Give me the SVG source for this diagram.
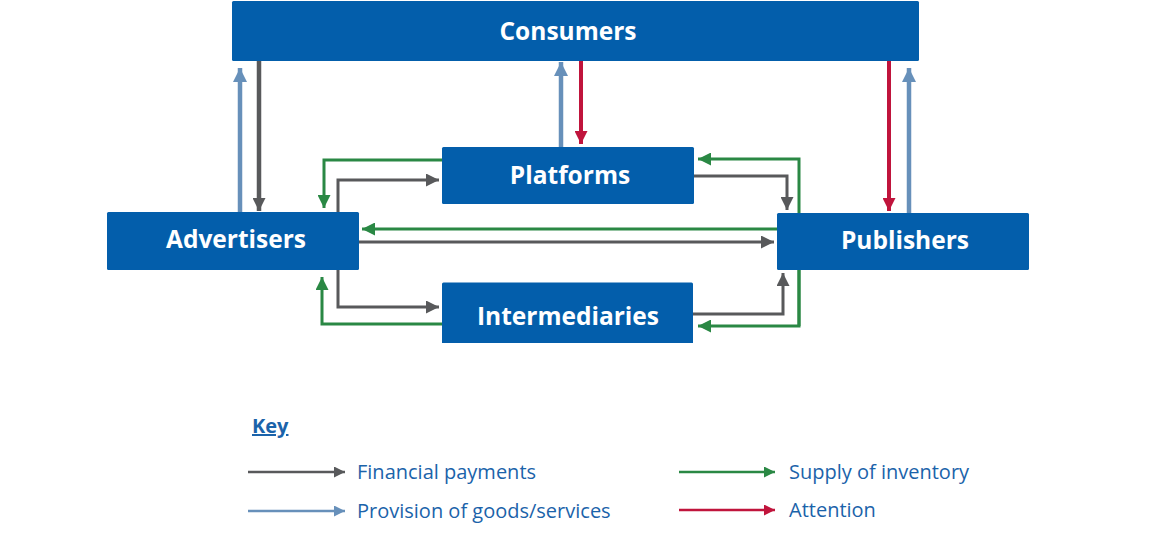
<svg xmlns="http://www.w3.org/2000/svg" width="1151" height="538" viewBox="0 0 1151 538">
<style>
.box{fill:#035EAB}
.lbl{font-family:"Open Sans","Liberation Sans",sans-serif;font-weight:bold;font-size:24.5px;fill:#fff;text-anchor:middle}
.c{fill:none;stroke-linejoin:miter}
.gy{stroke:#58595B}
.bl{stroke:#6790BA}
.gr{stroke:#2A8844}
.rd{stroke:#C0143C}
.key{font-family:"Open Sans","Liberation Sans",sans-serif;font-size:20px;fill:#1B63AA}
</style>
<defs>
<marker id="hgy" markerUnits="userSpaceOnUse" markerWidth="13" markerHeight="13" viewBox="0 0 13 13" refX="13" refY="6.5" orient="auto"><path d="M0,0L13,6.5L0,13z" fill="#58595B"/></marker>
<marker id="hbl" markerUnits="userSpaceOnUse" markerWidth="14" markerHeight="14" viewBox="0 0 14 14" refX="14" refY="7" orient="auto"><path d="M0,0L14,7L0,14z" fill="#6790BA"/></marker>
<marker id="hgr" markerUnits="userSpaceOnUse" markerWidth="13" markerHeight="13" viewBox="0 0 13 13" refX="13" refY="6.5" orient="auto"><path d="M0,0L13,6.5L0,13z" fill="#2A8844"/></marker>
<marker id="hrd" markerUnits="userSpaceOnUse" markerWidth="13" markerHeight="13" viewBox="0 0 13 13" refX="13" refY="6.5" orient="auto"><path d="M0,0L13,6.5L0,13z" fill="#C0143C"/></marker>
<marker id="kgy" markerUnits="userSpaceOnUse" markerWidth="11" markerHeight="11" viewBox="0 0 11 11" refX="11" refY="5.5" orient="auto"><path d="M0,0L11,5.5L0,11z" fill="#58595B"/></marker>
<marker id="kbl" markerUnits="userSpaceOnUse" markerWidth="11" markerHeight="11" viewBox="0 0 11 11" refX="11" refY="5.5" orient="auto"><path d="M0,0L11,5.5L0,11z" fill="#6790BA"/></marker>
<marker id="kgr" markerUnits="userSpaceOnUse" markerWidth="11" markerHeight="11" viewBox="0 0 11 11" refX="11" refY="5.5" orient="auto"><path d="M0,0L11,5.5L0,11z" fill="#2A8844"/></marker>
<marker id="krd" markerUnits="userSpaceOnUse" markerWidth="11" markerHeight="11" viewBox="0 0 11 11" refX="11" refY="5.5" orient="auto"><path d="M0,0L11,5.5L0,11z" fill="#C0143C"/></marker>
</defs>

<g id="connectors">
<!-- Advertisers <-> Consumers -->
<path class="c bl" stroke-width="4.5" d="M240,212V68" marker-end="url(#hbl)"/>
<path class="c gy" stroke-width="4.5" d="M259,61V211" marker-end="url(#hgy)"/>
<!-- Platforms <-> Consumers -->
<path class="c bl" stroke-width="4.5" d="M561,147V62" marker-end="url(#hbl)"/>
<path class="c rd" stroke-width="4" d="M581,61V144" marker-end="url(#hrd)"/>
<!-- Publishers <-> Consumers -->
<path class="c rd" stroke-width="4" d="M889,61V211" marker-end="url(#hrd)"/>
<path class="c bl" stroke-width="4.5" d="M909,213V68" marker-end="url(#hbl)"/>
<!-- Platforms <-> Advertisers -->
<path class="c gr" stroke-width="3" d="M442,160H324V208" marker-end="url(#hgr)"/>
<path class="c gy" stroke-width="3" d="M338,212V180H439" marker-end="url(#hgy)"/>
<!-- Publishers <-> Advertisers -->
<path class="c gr" stroke-width="3" d="M777,229H362" marker-end="url(#hgr)"/>
<path class="c gy" stroke-width="3" d="M359,242H774" marker-end="url(#hgy)"/>
<!-- Intermediaries <-> Advertisers -->
<path class="c gy" stroke-width="3" d="M338,270V307H439" marker-end="url(#hgy)"/>
<path class="c gr" stroke-width="3" d="M442,324H322V277" marker-end="url(#hgr)"/>
<!-- Platforms <-> Publishers -->
<path class="c gy" stroke-width="3" d="M694,176H787V210" marker-end="url(#hgy)"/>
<path class="c gr" stroke-width="3" d="M799,326V159H698" marker-end="url(#hgr)"/>
<!-- Intermediaries <-> Publishers -->
<path class="c gr" stroke-width="3" d="M799,270V326H698" marker-end="url(#hgr)"/>
<path class="c gy" stroke-width="3" d="M693,314H783V273" marker-end="url(#hgy)"/>
</g>

<g id="consumers">
<rect class="box" x="232" y="1" width="687" height="60" rx="1.5"/>
<text class="lbl" x="568" y="40">Consumers</text>
</g>
<g id="platforms">
<rect class="box" x="442" y="147" width="252" height="57" rx="1.5"/>
<text class="lbl" x="570" y="184">Platforms</text>
</g>
<g id="advertisers">
<rect class="box" x="107" y="212" width="252" height="58" rx="1.5"/>
<text class="lbl" x="236" y="248">Advertisers</text>
</g>
<g id="publishers">
<rect class="box" x="777" y="213" width="252" height="57" rx="1.5"/>
<text class="lbl" x="905" y="249">Publishers</text>
</g>
<g id="intermediaries">
<path class="box" d="M442,284a1.5,1.5 0 0 1 1.5,-1.5H691.5a1.5,1.5 0 0 1 1.5,1.5V343H442z"/>
<text class="lbl" x="568" y="325">Intermediaries</text>
</g>

<g id="key">
<text class="key" x="252" y="433" font-weight="bold" text-decoration="underline">Key</text>
<path class="c gy" stroke-width="2.5" d="M248,472H345" marker-end="url(#kgy)"/>
<text class="key" x="357" y="479">Financial payments</text>
<path class="c bl" stroke-width="2.5" d="M248,511H345" marker-end="url(#kbl)"/>
<text class="key" x="357" y="518">Provision of goods/services</text>
<path class="c gr" stroke-width="2.5" d="M679,472H775" marker-end="url(#kgr)"/>
<text class="key" x="789" y="479">Supply of inventory</text>
<path class="c rd" stroke-width="2.5" d="M679,510H775" marker-end="url(#krd)"/>
<text class="key" x="789" y="517">Attention</text>
</g>
</svg>
